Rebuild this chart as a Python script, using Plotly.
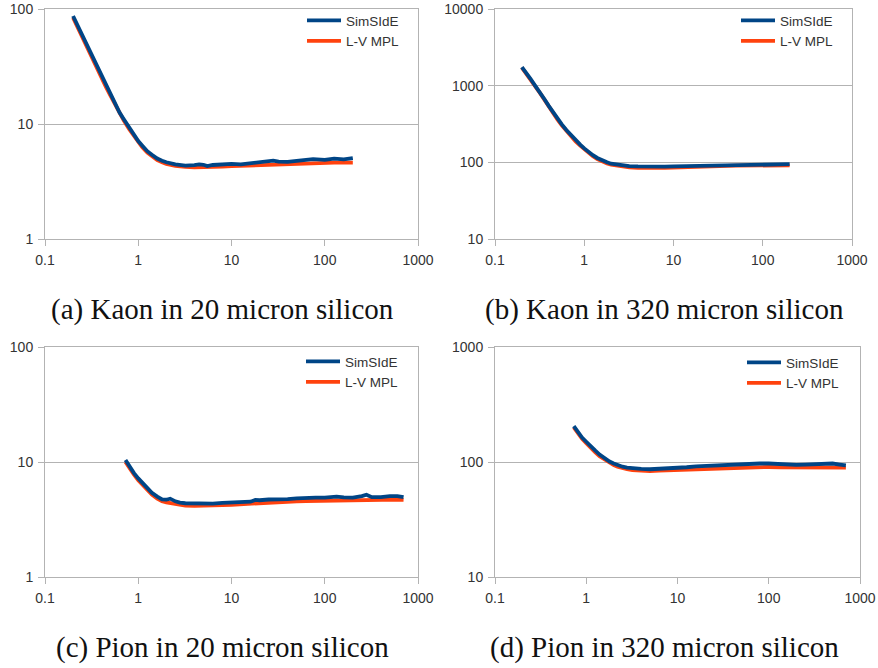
import plotly.graph_objects as go

# ---------------- data ----------------
kaon_p = [0.2, 0.22, 0.25, 0.28, 0.32, 0.36, 0.4, 0.45, 0.5, 0.56, 0.63, 0.7, 0.8, 0.9,
          1.0, 1.1, 1.25, 1.4, 1.6, 1.8, 2.0, 2.5, 2.8, 3.2, 4.0, 4.5, 5.0, 5.5, 6.3, 8.0,
          10, 12.6, 16, 20, 25, 28, 32, 40, 50, 63, 75, 100, 126, 160, 200]

kaon20_sim = [87, 74, 59.5, 49, 39, 32, 26.8, 21.8, 18.4, 15.3, 12.6, 11.0, 9.3, 8.0,
              7.1, 6.5, 5.8, 5.4, 5.0, 4.8, 4.65, 4.45, 4.4, 4.35, 4.38, 4.45, 4.42, 4.3, 4.4, 4.45,
              4.5, 4.45, 4.55, 4.6, 4.68, 4.8, 4.7, 4.68, 4.78, 4.85, 4.95, 4.88, 5.0, 4.92, 5.05]
kaon20_lv = [84, 71, 57, 47, 37.5, 30.8, 25.8, 21, 17.8, 14.8, 12.2, 10.7, 9.0, 7.8,
             6.9, 6.3, 5.65, 5.25, 4.85, 4.65, 4.5, 4.32, 4.27, 4.23, 4.2, 4.2, 4.2, 4.2, 4.22, 4.27,
             4.3, 4.33, 4.37, 4.41, 4.45, 4.47, 4.49, 4.52, 4.55, 4.57, 4.59, 4.6, 4.61, 4.62, 4.62]

kaon320_sim = [1750, 1520, 1230, 1010, 820, 660, 545, 441, 373, 312, 264, 229, 192, 170,
               152, 138, 124, 114, 105, 100, 96, 92, 90.5, 89.5, 88.5, 88, 88, 87.5, 87.5, 88,
               88.5, 89, 91, 91.5, 91.5, 92, 92, 93, 93.5, 93.5, 94, 95, 94.5, 94.5, 94.5]
kaon320_lv = [1720, 1490, 1205, 990, 800, 645, 532, 430, 363, 304, 257, 223, 187, 165,
              148, 134, 120, 110, 102, 96.5, 93, 88.5, 87, 86, 85, 84.5, 84.5, 84.5, 84.5, 85,
              86, 86.5, 87.5, 88, 88.5, 89, 89.5, 90, 90.5, 91, 91, 91.5, 91.5, 91.5, 91.5]

pion_p = [0.73, 0.8, 0.9, 1.0, 1.1, 1.25, 1.4, 1.6, 1.8, 2.0, 2.2, 2.5, 2.8, 3.2, 4, 5, 6.3, 8,
          10, 12.6, 16, 18, 20, 25, 32, 40, 50, 63, 80, 100, 134, 160, 200, 250, 280, 320,
          400, 500, 600, 700]

pion20_sim = [10.4, 9.2, 8.0, 7.2, 6.6, 5.95, 5.4, 5.0, 4.72, 4.7, 4.8, 4.55, 4.43, 4.38, 4.35, 4.3,
              4.35, 4.42, 4.47, 4.5, 4.52, 4.68, 4.65, 4.72, 4.7, 4.75, 4.82, 4.88, 4.9, 4.9, 5.0,
              4.92, 4.9, 5.05, 5.2, 4.95, 4.95, 5.05, 5.05, 4.95]
pion20_lv = [10.0, 8.9, 7.75, 6.95, 6.35, 5.7, 5.2, 4.8, 4.55, 4.45, 4.4, 4.3, 4.22, 4.18, 4.15, 4.15,
             4.17, 4.22, 4.25, 4.3, 4.35, 4.38, 4.4, 4.45, 4.48, 4.5, 4.55, 4.58, 4.6, 4.62, 4.63,
             4.63, 4.65, 4.68, 4.72, 4.68, 4.68, 4.7, 4.7, 4.68]

pion320_sim = [205, 185, 163, 150, 138, 126, 116, 107, 101, 97, 94, 91, 89.5, 88, 87, 86.5,
               87, 88.5, 89, 90, 91.5, 92, 92, 93, 93.5, 95, 95, 96, 97, 97, 95.5,
               95, 94.5, 95, 95.5, 96, 97, 97, 95, 93.5]
pion320_lv = [200, 180, 159, 146, 134, 122, 112, 104, 98, 94, 91, 88, 86.5, 85, 84, 83.5,
              84, 84.5, 85, 86, 87, 87.5, 87.5, 88, 88.5, 89, 89.5, 90, 90.5, 90.5, 90,
              90, 90, 90, 90, 90, 90.5, 90.5, 90, 89.5]

x_ticks = [0.1, 1, 10, 100, 1000]
x_tick_text = ["0.1", "1", "10", "100", "1000"]

captions = ["(a) Kaon in 20 micron silicon", "(b) Kaon in 320 micron silicon",
            "(c) Pion in 20 micron silicon", "(d) Pion in 320 micron silicon"]

series_names = ["SimSIdE", "L-V MPL"]

# ---------------- layout helpers ----------------
W, H = 878, 668
BLUE = "#004586"
ORANGE = "#ff420e"
GRID = "#b3b3b3"
TICKFONT = dict(family="Liberation Sans, Arial, sans-serif", size=14, color="#333333")

def fx(px):
    return px / W

def fy(py):
    return 1 - py / H

panels = [
    dict(xp=(45, 418), yp=(9, 239), yr=(0, 2), x=kaon_p, sim=kaon20_sim, lv=kaon20_lv,
         yt=[1, 10, 100], lgx=302, lgy=5),
    dict(xp=(495, 852), yp=(9, 239), yr=(1, 4), x=kaon_p, sim=kaon320_sim, lv=kaon320_lv,
         yt=[10, 100, 1000, 10000], lgx=736, lgy=5),
    dict(xp=(45, 418), yp=(347, 577), yr=(0, 2), x=pion_p, sim=pion20_sim, lv=pion20_lv,
         yt=[1, 10, 100], lgx=301, lgy=346),
    dict(xp=(495, 860), yp=(347, 577), yr=(1, 3), x=pion_p, sim=pion320_sim, lv=pion320_lv,
         yt=[10, 100, 1000], lgx=742, lgy=347),
]
caption_pos = [(222, 310), (664, 310), (222, 647), (664, 647)]

fig = go.Figure()
layout = dict(width=W, height=H, margin=dict(l=0, r=0, t=0, b=0, autoexpand=False),
              paper_bgcolor="white", plot_bgcolor="white", showlegend=True)

annotations = []
for i, p in enumerate(panels):
    n = "" if i == 0 else str(i + 1)
    xa, ya = "x" + n, "y" + n
    lg = "legend" + n
    fig.add_trace(go.Scatter(x=p["x"], y=p["lv"], mode="lines", name=series_names[1],
                             line=dict(color=ORANGE, width=3.8), xaxis=xa, yaxis=ya,
                             legend=lg, legendrank=2))
    fig.add_trace(go.Scatter(x=p["x"], y=p["sim"], mode="lines", name=series_names[0],
                             line=dict(color=BLUE, width=3.8), xaxis=xa, yaxis=ya,
                             legend=lg, legendrank=1))
    layout["xaxis" + n] = dict(
        type="log", range=[-1, 3], domain=[fx(p["xp"][0]), fx(p["xp"][1])],
        anchor=ya, showgrid=False, zeroline=False, automargin=False,
        showline=True, linecolor=GRID, linewidth=1, mirror=True,
        ticks="outside", ticklen=6, tickcolor=GRID, tickwidth=1, ticklabelstandoff=2,
        tickvals=x_ticks, ticktext=x_tick_text, tickfont=TICKFONT,
    )
    layout["yaxis" + n] = dict(
        type="log", range=list(p["yr"]), domain=[fy(p["yp"][1]), fy(p["yp"][0])],
        anchor=xa, showgrid=True, gridcolor=GRID, gridwidth=1, zeroline=False, automargin=False,
        showline=True, linecolor=GRID, linewidth=1, mirror=True,
        ticks="outside", ticklen=6, tickcolor=GRID, tickwidth=1, ticklabelstandoff=2,
        tickvals=p["yt"], ticktext=[str(v) for v in p["yt"]], tickfont=TICKFONT,
    )
    layout[lg] = dict(
        x=fx(p["lgx"]), y=fy(p["lgy"]), xanchor="left", yanchor="top",
        bgcolor="rgba(0,0,0,0)", borderwidth=0, itemwidth=34,
        font=dict(family="Liberation Sans, Arial, sans-serif", size=13.5, color="#333333"),
        tracegroupgap=0,
    )
    cx, cy = caption_pos[i]
    annotations.append(dict(
        text=captions[i], x=fx(cx), y=fy(cy), xref="paper", yref="paper",
        xanchor="center", yanchor="middle", showarrow=False,
        font=dict(family="Liberation Serif, Times New Roman, serif", size=29, color="#111111"),
    ))

layout["annotations"] = annotations
fig.update_layout(**layout)
fig.write_html("out.html")
